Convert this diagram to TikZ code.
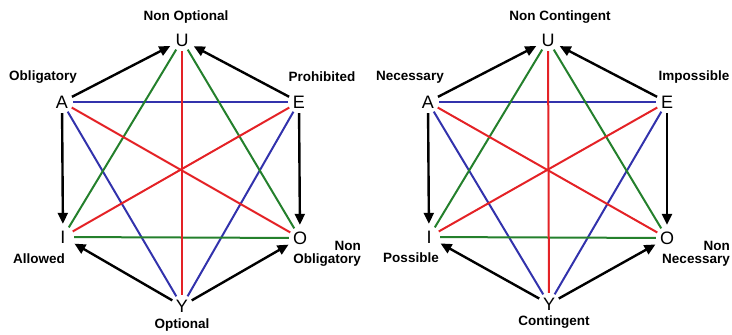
\documentclass[tikz,border=0pt]{standalone}
\usepackage{fontspec}
\setmainfont{Liberation Sans}
\usetikzlibrary{arrows.meta}

\definecolor{hexred}{RGB}{228,34,38}
\definecolor{hexgreen}{RGB}{36,128,44}
\definecolor{hexblue}{RGB}{50,50,172}

\tikzset{
  vertex/.style={circle, inner sep=0pt, minimum size=22pt, font=\fontsize{18}{18}\selectfont},
  tag/.style={inner sep=0pt, align=center, font=\fontsize{13.5}{13.5}\selectfont\bfseries},
  edge/.style={line width=2pt},
  imp/.style={line width=2.4pt, -{Triangle[length=11pt,width=10pt]}, shorten >=2pt}
}

\begin{document}
\begin{tikzpicture}[x=1pt, y=-1pt]
    \useasboundingbox (0,0) rectangle (732,335);
    % deontic hexagon
    \node[vertex] (U) at (182,40) {U};
    \node[vertex] (A) at (62,102) {A};
    \node[vertex] (E) at (299,102) {E};
    \node[vertex] (I) at (63,237) {I};
    \node[vertex] (O) at (300,238) {O};
    \node[vertex] (Y) at (182,306) {Y};
    \draw[edge, hexblue] (A) -- (E);
    \draw[edge, hexblue] (A) -- (Y);
    \draw[edge, hexblue] (E) -- (Y);
    \draw[edge, hexgreen] (I) -- (O);
    \draw[edge, hexgreen] (U) -- (I);
    \draw[edge, hexgreen] (U) -- (O);
    \draw[edge, hexred] (U) -- (Y);
    \draw[edge, hexred] (A) -- (O);
    \draw[edge, hexred] (E) -- (I);
    \draw[imp] (A) -- (U);
    \draw[imp] (E) -- (U);
    \draw[imp] (A) -- (I);
    \draw[imp] (E) -- (O);
    \draw[imp] (Y) -- (I);
    \draw[imp] (Y) -- (O);
    \node[tag] (tU) at (186,17) {Non Optional};
    \node[tag] (tA) at (43,77) {Obligatory};
    \node[tag] (tE) at (322,77) {Prohibited};
    \node[tag] (tI) at (39,259) {Allowed};
    \node[tag, align=right, anchor=east] (tO) at (361,254) {Non\\Obligatory};
    \node[tag] (tY) at (182,325) {Optional};
    % modal hexagon
    \node[vertex] (rU) at (548,40) {U};
    \node[vertex] (rA) at (428,102) {A};
    \node[vertex] (rE) at (667,102) {E};
    \node[vertex] (rI) at (429,237) {I};
    \node[vertex] (rO) at (667,238) {O};
    \node[vertex] (rY) at (549,304) {Y};
    \draw[edge, hexblue] (rA) -- (rE);
    \draw[edge, hexblue] (rA) -- (rY);
    \draw[edge, hexblue] (rE) -- (rY);
    \draw[edge, hexgreen] (rI) -- (rO);
    \draw[edge, hexgreen] (rU) -- (rI);
    \draw[edge, hexgreen] (rU) -- (rO);
    \draw[edge, hexred] (rU) -- (rY);
    \draw[edge, hexred] (rA) -- (rO);
    \draw[edge, hexred] (rE) -- (rI);
    \draw[imp] (rA) -- (rU);
    \draw[imp] (rE) -- (rU);
    \draw[imp] (rA) -- (rI);
    \draw[imp] (rE) -- (rO);
    \draw[imp] (rY) -- (rI);
    \draw[imp] (rY) -- (rO);
    \node[tag] (rtU) at (560,17) {Non Contingent};
    \node[tag] (rtA) at (410,77) {Necessary};
    \node[tag] (rtE) at (694,77) {Impossible};
    \node[tag] (rtI) at (411,258) {Possible};
    \node[tag, align=right, anchor=east] (rtO) at (730,254) {Non\\Necessary};
    \node[tag] (rtY) at (554,322) {Contingent};
\end{tikzpicture}
\end{document}
